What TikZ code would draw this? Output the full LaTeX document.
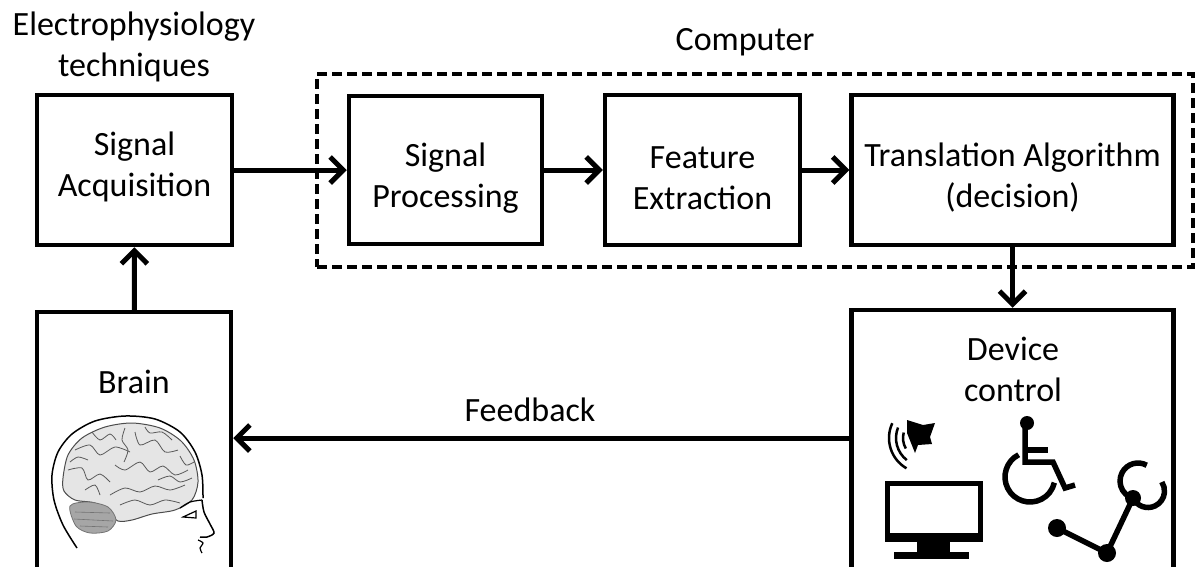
\documentclass[tikz,border=0pt]{standalone}
\usepackage{fontspec}
\setmainfont{Carlito}
\usetikzlibrary{arrows.meta}
\tikzstyle{block} = [rectangle, draw = black, line width = 4.5pt, inner sep = 0pt]
\tikzstyle{txt} = [inner sep = 0pt, align = center, font = \fontsize{34}{41}\selectfont]
\tikzstyle{flow} = [line width = 5pt]
\tikzstyle{gyrus} = [draw = black!65, line width = 0.8pt]
\tikzstyle{icon} = [line width = 5.5pt]

\begin{document}
\begin{tikzpicture}[x = 1pt, y = -1pt, > = {Straight Barb[length = 13pt, width = 26pt]}]
        \useasboundingbox (0, 0) rectangle (1196, 566);
        \clip (0, 0) rectangle (1196, 566);
        \node (computer) at (755, 170.5) [rectangle, draw, line width = 3.5pt, dash pattern = on 10pt off 5pt, minimum width = 876pt, minimum height = 193pt] {};
        \node (acq) at (134.5, 170) [block, minimum width = 195pt, minimum height = 150pt] {};
        \node (proc) at (445.5, 170) [block, minimum width = 193pt, minimum height = 148pt] {};
        \node (feat) at (702.5, 170) [block, minimum width = 195pt, minimum height = 150pt] {};
        \node (trans) at (1012.5, 170) [block, minimum width = 322pt, minimum height = 150pt] {};
        \node (brain) at (134, 470) [block, minimum width = 194pt, minimum height = 316pt] {};
        \node (dev) at (1012.5, 468) [block, minimum width = 322pt, minimum height = 316pt] {};
        \node (acqtext) at (134.5, 167) [txt] {Signal\\Acquisition};
        \node (proctext) at (445.5, 178) [txt] {Signal\\Processing};
        \node (feattext) at (702.5, 178) [txt] {Feature\\Extraction};
        \node (transtext) at (1012.5, 178) [txt] {Translation Algorithm\\(decision)};
        \node (elec) at (134, 47) [txt] {Electrophysiology\\techniques};
        \node (comp) at (745, 50) [txt, anchor = base] {Computer};
        \node (fblabel) at (530, 421) [txt, anchor = base] {Feedback};
        \node (brainlbl) at (134, 393) [txt, anchor = base] {Brain};
        \node (devlbl) at (1013, 369) [txt] {Device\\control};
        \coordinate (fb) at (0, 438);
        \draw [->, flow] (brain) -- (acq);
        \draw [->, flow] (acq) -- (proc);
        \draw [->, flow] (proc) -- (feat);
        \draw [->, flow] (feat) -- (trans);
        \draw [->, flow] (trans) -- (dev);
        \draw [->, flow] (dev.west |- fb) -- (brain.east |- fb);
        \draw [fill = black!10, draw = black!70, line width = 1pt] plot [smooth cycle] coordinates {(63, 478) (68, 455) (82, 438) (105, 427) (132, 423) (160, 428) (181, 441) (194, 460) (198, 482) (192, 500) (175, 510) (152, 514) (132, 520) (118, 521) (108, 512) (95, 503) (75, 500) (64, 491)};
        \draw [gyrus] plot [smooth] coordinates {(75, 450) (90, 445) (100, 455) (115, 447) (130, 452)};
        \draw [gyrus] plot [smooth] coordinates {(135, 432) (140, 445) (155, 440) (165, 452) (178, 450)};
        \draw [gyrus] plot [smooth] coordinates {(68, 470) (82, 468) (88, 480) (100, 474) (110, 482)};
        \draw [gyrus] plot [smooth] coordinates {(115, 465) (125, 470) (140, 462) (150, 472) (163, 466) (175, 475) (188, 470)};
        \draw [gyrus] plot [smooth] coordinates {(110, 495) (125, 488) (140, 492) (155, 486) (170, 490) (185, 485)};
        \draw [gyrus] plot [smooth] coordinates {(120, 505) (135, 500) (150, 505) (165, 500) (180, 503)};
        \draw [gyrus] plot [smooth] coordinates {(92, 432) (100, 440) (110, 434) (116, 440)};
        \draw [gyrus] plot [smooth] coordinates {(85, 490) (95, 485) (100, 495)};
        \draw [gyrus] plot [smooth] coordinates {(180, 456) (186, 465) (194, 462)};
        \draw [gyrus] plot [smooth] coordinates {(125, 428) (122, 440) (128, 450) (124, 462)};
        \draw [gyrus] plot [smooth] coordinates {(158, 480) (170, 476) (180, 482) (192, 478)};
        \draw [gyrus] plot [smooth] coordinates {(145, 427) (150, 433) (162, 432) (172, 440)};
        \draw [gyrus] plot [smooth] coordinates {(70, 462) (78, 457) (88, 460)};
        \draw [fill = black!35, draw = black!55, line width = 0.8pt] plot [smooth cycle] coordinates {(70, 506) (88, 502) (108, 507) (116, 520) (108, 531) (90, 533) (76, 526)};
        \draw [black!55, line width = 0.6pt] (75, 512) -- (110, 513) (74, 519) -- (113, 521) (80, 526) -- (108, 527);
        \draw [line width = 1.5pt] plot [smooth] coordinates {(77, 548) (63, 525) (54, 500) (52, 475) (58, 452) (72, 434) (95, 421) (125, 416) (155, 419) (180, 432) (195, 452) (202, 475) (203, 498)};
        \draw [line width = 1.5pt] plot [smooth] coordinates {(202, 500) (204, 512) (210, 524) (214, 533) (207, 537) (200, 537)};
        \draw [line width = 1.2pt] plot [smooth] coordinates {(198, 540) (203, 543) (200, 548) (202, 553)};
        \draw [line width = 1.2pt] plot [smooth] coordinates {(180, 508) (190, 502) (202, 500)};
        \draw [line width = 1.2pt] (183, 517) -- (196, 511) -- (196, 518) -- cycle;
        \fill (907, 420) -- (923, 425) -- (935, 423) -- (930, 437) -- (932, 444) -- (918, 445) -- (915, 453) -- (907, 433) -- cycle;
        \draw [line width = 2.5pt] (924, 438) ++(-155:35) arc (-155:-240:35);
        \draw [line width = 2.5pt] (924, 438) ++(-158:28) arc (-158:-232:28);
        \draw [line width = 2.5pt] (924, 438) ++(-165:21) arc (-165:-210:21);
        \fill (885, 481) rectangle (983, 542);
        \fill [white] (890, 486) rectangle (978, 533);
        \fill (917, 542) rectangle (950, 553);
        \fill (894, 552) rectangle (969, 559);
        \fill (1027, 423) circle (7);
        \draw [icon] (1025, 423) -- (1025, 462) -- (1053, 462) -- (1065, 488) -- (1075, 485);
        \draw [icon] (1025, 450) -- (1048, 450);
        \draw [icon] (1030, 477) ++(-117:25) arc (-117:-347:25);
        \draw [icon] (1057, 528) -- (1107, 553) -- (1133, 498);
        \fill (1057, 528) circle (9);
        \fill (1107, 553) circle (9);
        \fill (1133, 498) circle (8);
        \draw [icon] (1138, 481) ++(-61:18) arc (-61:-243:18);
        \draw [icon] (1148, 491) ++(-205:16.5) arc (-205:-393:16.5);
    \end{tikzpicture}
\end{document}
